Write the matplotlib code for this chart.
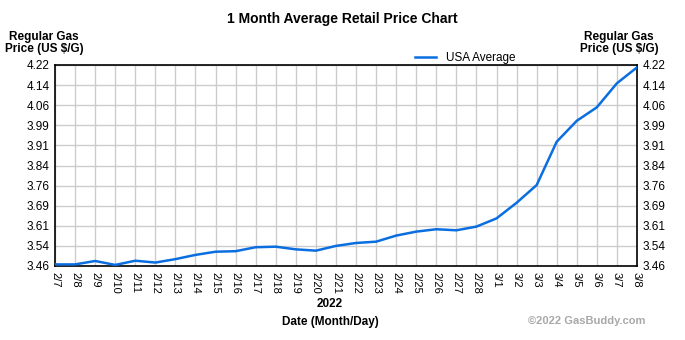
import matplotlib.pyplot as plt
import numpy as np

plt.rcParams['font.family'] = ['Liberation Sans', 'DejaVu Sans']

dates = ["2/7", "2/8", "2/9", "2/10", "2/11", "2/12", "2/13", "2/14", "2/15", "2/16",
         "2/17", "2/18", "2/19", "2/20", "2/21", "2/22", "2/23", "2/24", "2/25", "2/26",
         "2/27", "2/28", "3/1", "3/2", "3/3", "3/4", "3/5", "3/6", "3/7", "3/8"]
usa_avg = [3.466, 3.466, 3.479, 3.464, 3.480, 3.473, 3.486, 3.502, 3.514, 3.516,
           3.531, 3.533, 3.523, 3.518, 3.536, 3.547, 3.552, 3.575, 3.590, 3.599,
           3.595, 3.609, 3.640, 3.699, 3.766, 3.930, 4.009, 4.060, 4.151, 4.211]
yticks = [3.46, 3.54, 3.61, 3.69, 3.76, 3.84, 3.91, 3.99, 4.06, 4.14, 4.22]
ymin, ymax = 3.46, 4.22

fig = plt.figure(figsize=(6.85, 3.4), dpi=100)
ax = fig.add_axes([55 / 685, 74 / 340, 582 / 685, 201 / 340])

x = np.arange(len(dates))
ax.plot(x, usa_avg, color="#0a6ee0", lw=1.8, label="USA Average", zorder=3)

ax.set_xlim(0, len(dates) - 1)
ax.set_ylim(ymin, ymax)
ax.set_xticks(x)
ax.set_xticklabels(dates, rotation=-90, fontsize=8)
yt = np.linspace(ymin, ymax, len(yticks))
ax.set_yticks(yt)
ax.set_yticklabels([f"{v:.2f}" for v in yticks], fontsize=8.5)
ax.tick_params(length=0, pad=4)
ax.tick_params(axis="y", pad=4)
ax.tick_params(axis="y", right=True, labelright=True)
ax.grid(True, color="#cccccc", lw=1)
ax.set_axisbelow(True)
for s in ax.spines.values():
    s.set_color("black")
    s.set_linewidth(1.2)

fig.text(0.5, 1 - 19 / 340, "1 Month Average Retail Price Chart", ha="center", va="center",
         fontsize=10, fontweight="bold")
fig.text(44 / 685, 1 - 43 / 340, "Regular Gas\nPrice (US $/G)", ha="center", va="center",
         fontsize=8.5, fontweight="bold", linespacing=1.1)
fig.text(619 / 685, 1 - 43 / 340, "Regular Gas\nPrice (US $/G)", ha="center", va="center",
         fontsize=8.5, fontweight="bold", linespacing=1.1)
ax.legend(loc="lower left", bbox_to_anchor=(415 / 685, 1 - 64 / 340), bbox_transform=fig.transFigure,
          frameon=False, fontsize=8.5, handlelength=1.8, borderpad=0, borderaxespad=0)
fig.text(330 / 685, 1 - 304 / 340, "2022", ha="center", va="center", fontsize=8.5, fontweight="bold")
fig.text(330 / 685, 1 - 322 / 340, "Date (Month/Day)", ha="center", va="center", fontsize=8.5,
         fontweight="bold")
fig.text(646 / 685, 1 - 321 / 340, "\u00a92022 GasBuddy.com", ha="right", va="center", fontsize=8,
         fontweight="bold", color="#a8a8a8")

fig.savefig("out.png", dpi=100)
